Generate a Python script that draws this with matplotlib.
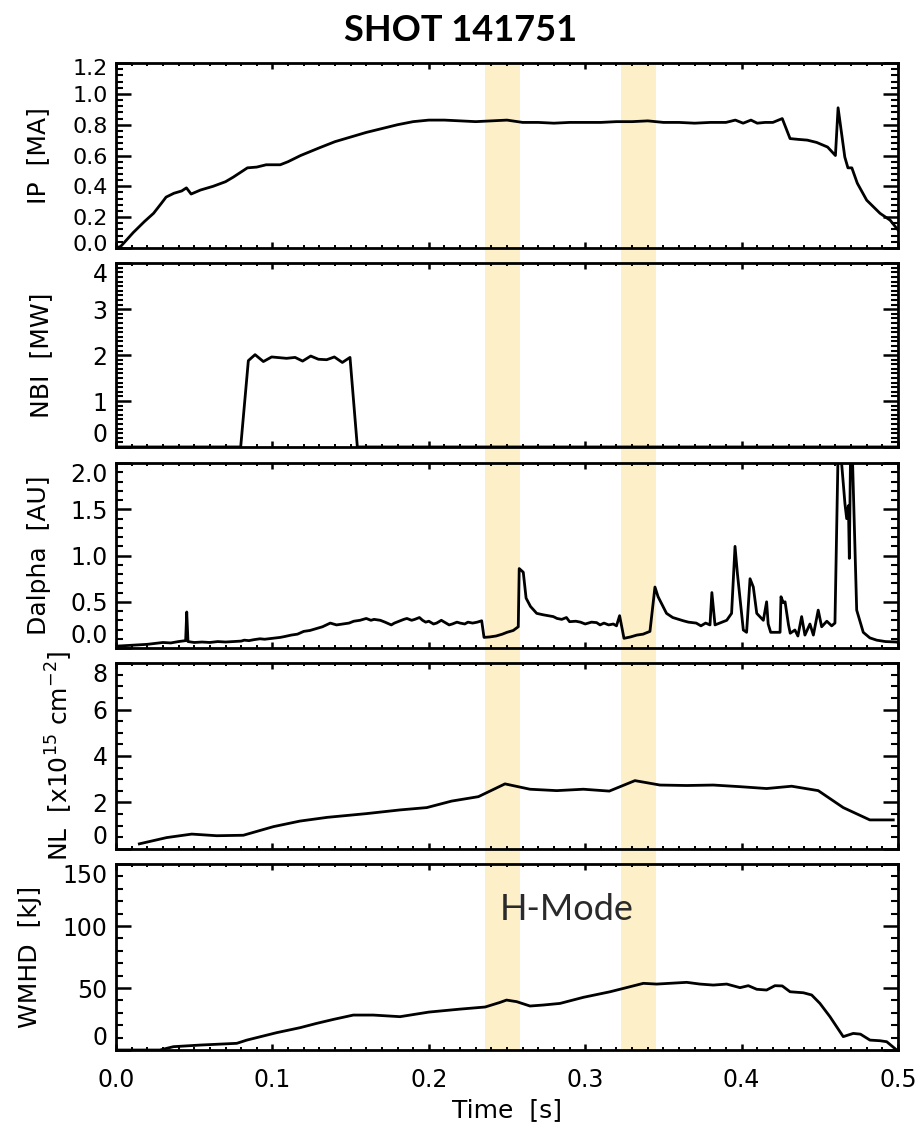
import matplotlib
matplotlib.use("Agg")
import matplotlib.pyplot as plt
from matplotlib.patches import Rectangle
from matplotlib.transforms import blended_transform_factory, ScaledTranslation
from matplotlib.ticker import MultipleLocator

plt.rcParams['font.family'] = ['DejaVu Sans']
plt.rcParams['mathtext.fontset'] = 'dejavusans'

title = "SHOT 141751"
xlabel = "Time  [s]"
ylabels = ["IP  [MA]", "NBI  [MW]", "Dalpha  [AU]", "NL  [x10$^{15}$ cm$^{-2}$]", "WMHD  [kJ]"]
hmode_label = "H-Mode"
bands = [(0.236, 0.258), (0.323, 0.345)]
xticks = [0.0, 0.1, 0.2, 0.3, 0.4, 0.5]

ip_t = [0.0, 0.003, 0.011, 0.018, 0.024, 0.029, 0.032, 0.037, 0.042, 0.045, 0.048, 0.054,
        0.062, 0.070, 0.075, 0.084, 0.090, 0.096, 0.105, 0.110, 0.118, 0.13, 0.14, 0.15,
        0.16, 0.17, 0.18, 0.19, 0.20, 0.21, 0.22, 0.23, 0.24, 0.25, 0.26, 0.27, 0.28,
        0.29, 0.30, 0.31, 0.32, 0.33, 0.34, 0.35, 0.36, 0.37, 0.38, 0.39, 0.396, 0.401,
        0.406, 0.41, 0.415, 0.42, 0.426, 0.431, 0.436, 0.442, 0.448, 0.455, 0.460,
        0.4617, 0.466, 0.468, 0.4705, 0.474, 0.480, 0.4885, 0.495, 0.5]
ip_v = [0.0, 0.01, 0.10, 0.17, 0.225, 0.29, 0.33, 0.355, 0.37, 0.39, 0.35, 0.376,
        0.40, 0.43, 0.46, 0.52, 0.525, 0.54, 0.54, 0.56, 0.60, 0.65, 0.69, 0.72,
        0.75, 0.775, 0.80, 0.82, 0.83, 0.83, 0.825, 0.82, 0.825, 0.83, 0.815, 0.815, 0.81,
        0.815, 0.815, 0.815, 0.82, 0.82, 0.825, 0.815, 0.815, 0.81, 0.815, 0.815, 0.83, 0.81,
        0.83, 0.81, 0.815, 0.815, 0.84, 0.71, 0.705, 0.70, 0.685, 0.655, 0.60,
        0.91, 0.59, 0.52, 0.52, 0.42, 0.31, 0.225, 0.18, 0.117]

nbi_t = [0.0, 0.0797, 0.0846, 0.0889, 0.0942, 0.0995, 0.109, 0.1145, 0.1193, 0.1245,
         0.1294, 0.1347, 0.1396, 0.1447, 0.1496, 0.1543, 0.5]
nbi_v = [0.0, 0.0, 1.88, 2.01, 1.86, 1.96, 1.93, 1.95, 1.87, 1.98,
         1.91, 1.90, 1.96, 1.84, 1.95, 0.0, 0.0]

da_t = [0.0, 0.005, 0.01, 0.015, 0.02, 0.025, 0.03, 0.035, 0.04, 0.0445, 0.0452, 0.046,
        0.05, 0.055, 0.06, 0.065, 0.07, 0.075, 0.08, 0.082, 0.085, 0.088, 0.092, 0.095,
        0.1, 0.105, 0.108, 0.112, 0.116, 0.12, 0.124, 0.128, 0.132, 0.137, 0.141, 0.145,
        0.149, 0.152, 0.156, 0.160, 0.163, 0.165, 0.169, 0.172, 0.176, 0.178, 0.181,
        0.184, 0.186, 0.189, 0.191, 0.194, 0.196, 0.198, 0.200, 0.203, 0.205, 0.208,
        0.21, 0.213, 0.215, 0.218, 0.22, 0.223, 0.225, 0.228, 0.231, 0.2338,
        0.2353, 0.239, 0.243, 0.247, 0.25, 0.254, 0.2572, 0.2578, 0.2604, 0.2622, 0.265,
        0.269, 0.273, 0.2796, 0.282, 0.285, 0.288, 0.290, 0.294, 0.297, 0.300, 0.304,
        0.3073, 0.3095, 0.312, 0.315, 0.318, 0.320, 0.322, 0.3248, 0.329, 0.333, 0.337,
        0.3414, 0.3446, 0.3466, 0.352, 0.356, 0.3627, 0.366, 0.371, 0.374, 0.377, 0.3798,
        0.381, 0.383, 0.386, 0.3905, 0.3936, 0.3958, 0.3973, 0.4011, 0.4032,
        0.4054, 0.4075, 0.4097, 0.4139, 0.416, 0.417, 0.4186, 0.4246, 0.4252, 0.4267, 0.4278,
        0.43, 0.4311, 0.4341, 0.436, 0.4384, 0.4405, 0.4437, 0.4459, 0.449, 0.4512, 0.4545,
        0.4576, 0.4597, 0.462, 0.4661, 0.4672, 0.4683, 0.4689, 0.4700, 0.4736, 0.4778,
        0.482, 0.4864, 0.492, 0.499, 0.5]
da_v = [0.02, 0.025, 0.03, 0.035, 0.04, 0.05, 0.06, 0.055, 0.07, 0.08, 0.39, 0.07,
        0.06, 0.065, 0.06, 0.07, 0.065, 0.07, 0.075, 0.085, 0.08, 0.09, 0.10, 0.095,
        0.105, 0.115, 0.125, 0.14, 0.15, 0.18, 0.19, 0.21, 0.23, 0.27, 0.25, 0.26,
        0.27, 0.29, 0.30, 0.32, 0.30, 0.31, 0.30, 0.28, 0.25, 0.27, 0.29,
        0.31, 0.32, 0.30, 0.31, 0.33, 0.30, 0.28, 0.29, 0.26, 0.27, 0.30,
        0.28, 0.25, 0.26, 0.28, 0.27, 0.26, 0.28, 0.27, 0.28, 0.295,
        0.115, 0.12, 0.13, 0.15, 0.17, 0.19, 0.23, 0.86, 0.82, 0.54, 0.45,
        0.375, 0.36, 0.34, 0.32, 0.31, 0.33, 0.285, 0.29, 0.28, 0.26, 0.28,
        0.275, 0.25, 0.27, 0.25, 0.26, 0.24, 0.35, 0.105, 0.12, 0.14, 0.15,
        0.18, 0.66, 0.555, 0.375, 0.33, 0.295, 0.28, 0.27, 0.24, 0.27, 0.25,
        0.60, 0.25, 0.27, 0.30, 0.375, 1.10, 0.81, 0.195, 0.17,
        0.75, 0.66, 0.375, 0.30, 0.50, 0.26, 0.17, 0.17, 0.555, 0.49, 0.50,
        0.25, 0.16, 0.195, 0.13, 0.34, 0.14, 0.26, 0.14, 0.41, 0.23, 0.29,
        0.24, 0.27, 2.4, 1.56, 1.40, 1.54, 0.97, 2.6, 0.41, 0.17,
        0.11, 0.085, 0.07, 0.065, 0.06]

nl_t = [0.0149, 0.0324, 0.0484, 0.0644, 0.0814, 0.1006, 0.1176, 0.135, 0.16, 0.1816,
        0.1987, 0.2146, 0.2317, 0.2487, 0.2647, 0.2818, 0.2988, 0.3154, 0.3318, 0.3478,
        0.3649, 0.3819, 0.399, 0.416, 0.432, 0.449, 0.465, 0.482, 0.497]
nl_v = [0.22, 0.49, 0.64, 0.57, 0.59, 0.96, 1.2, 1.36, 1.52, 1.68,
        1.78, 2.06, 2.25, 2.80, 2.57, 2.51, 2.57, 2.49, 2.94, 2.75,
        2.73, 2.75, 2.68, 2.60, 2.70, 2.51, 1.78, 1.25, 1.25]

w_t = [0.0, 0.028, 0.0367, 0.0537, 0.0772, 0.0836, 0.1027, 0.1176, 0.1283, 0.139,
       0.1517, 0.1645, 0.1816, 0.20, 0.22, 0.236, 0.2455, 0.2497, 0.2562, 0.2647,
       0.2732, 0.2839, 0.2988, 0.3159, 0.3244, 0.3372, 0.3457, 0.3649, 0.3734, 0.3819,
       0.3905, 0.399, 0.4043, 0.4097, 0.416, 0.4213, 0.426, 0.431, 0.4395, 0.4448,
       0.4501, 0.4565, 0.465, 0.4714, 0.476, 0.4821, 0.4885, 0.4928, 0.4992]
w_v = [0.0, 0.0, 2.7, 4.0, 5.4, 8.0, 14.0, 18.0, 21.5, 24.7,
       28.2, 28.2, 26.9, 30.6, 33.0, 34.7, 38.4, 40.3, 39.0, 35.5,
       36.3, 37.6, 42.5, 47.0, 49.7, 53.8, 53.2, 54.6, 53.2, 52.4,
       53.2, 50.3, 51.9, 49.0, 48.4, 51.9, 51.7, 47.0, 46.2, 44.4,
       37.6, 26.9, 10.8, 13.4, 12.8, 8.0, 7.5, 6.7, 0.0]

series = [(ip_t, ip_v), (nbi_t, nbi_v), (da_t, da_v), (nl_t, nl_v), (w_t, w_v)]
ylims = [(0, 1.2), (0, 4), (0, 2.0), (0, 8), (0, 150)]
ymajor = [0.2, 1, 0.5, 2, 50]
yminor = [0.04, 0.1, 0.1, 0.5, 10]
yfmt = ["{:.1f}", "{:.0f}", "{:.1f}", "{:.0f}", "{:.0f}"]
ylabel_x = [-0.0844, -0.0806, -0.0831, -0.0524, -0.0946]

fig = plt.figure(figsize=(9.21, 11.27), dpi=100)
left, width = 0.126, 0.849
bottoms = [0.780, 0.6034, 0.425, 0.2467, 0.0683]
heights = [0.164, 0.163, 0.164, 0.165, 0.165]
axes = []
for i in range(5):
    ax = fig.add_axes([left, bottoms[i], width, heights[i]])
    ax.set_facecolor('none')
    axes.append(ax)

band_color = '#FDEFC8'
for i, ax in enumerate(axes):
    t, v = series[i]
    ax.plot(t, v, color='black', lw=2.0, zorder=3)
    ax.set_xlim(0, 0.5)
    ax.set_ylim(*ylims[i])
    lo, hi = ylims[i]
    n = int(round((hi - lo) / ymajor[i]))
    yt = [lo + k * ymajor[i] for k in range(n + 1)]
    ax.set_yticks(yt, [yfmt[i].format(y) for y in yt])
    ax.yaxis.set_minor_locator(MultipleLocator(yminor[i]))
    ax.set_xticks(xticks)
    ax.xaxis.set_minor_locator(MultipleLocator(0.01))
    ylsize = 16 if i == 0 else 17
    ax.tick_params(axis='y', which='major', direction='in', length=11, width=1.8,
                   left=True, right=True, labelsize=ylsize, pad=6)
    ax.tick_params(axis='y', which='minor', direction='in', length=5, width=1.5,
                   left=True, right=True)
    ax.tick_params(axis='x', which='major', direction='in', length=4.5, width=1.8,
                   top=True, bottom=True, labelsize=17, pad=13)
    ax.tick_params(axis='x', which='minor', direction='in', length=2.2, width=1.4,
                   top=True, bottom=True)
    labs = ax.get_yticklabels()
    if i == 0:
        # crowded ends: centre the end labels and nudge them inward
        labs[0].set_transform(labs[0].get_transform() +
                              ScaledTranslation(0, 5 / 100, fig.dpi_scale_trans))
        labs[-1].set_transform(labs[-1].get_transform() +
                               ScaledTranslation(0, -4 / 100, fig.dpi_scale_trans))
    else:
        labs[0].set_verticalalignment('bottom')
        labs[-1].set_verticalalignment('top')
    for sp in ax.spines.values():
        sp.set_linewidth(2.0)
    ax.set_ylabel(ylabels[i], fontsize=18)
    ax.yaxis.set_label_coords(ylabel_x[i], 0.5)
    if i < 4:
        ax.tick_params(axis='x', labelbottom=False)

axes[-1].set_xticks(xticks, [f"{x:.1f}" for x in xticks])
axes[-1].set_xlabel(xlabel, fontsize=18, labelpad=4)

trans = blended_transform_factory(axes[-1].transData, fig.transFigure)
ybot = bottoms[-1]
ytop = bottoms[0] + heights[0]
for (a, b) in bands:
    fig.add_artist(Rectangle((a, ybot), b - a, ytop - ybot, transform=trans,
                             facecolor=band_color, edgecolor='none', zorder=-1))

axes[-1].text(0.288, 113, hmode_label, fontsize=26, fontweight='normal',
              family=['Lato', 'DejaVu Sans'],
              ha='center', va='center', color='#2a2a2a')

fig.text(0.5, 0.973, title, fontsize=26, fontweight='bold', family=['Lato', 'DejaVu Sans'],
         ha='center', va='center')

fig.savefig("out.png", dpi=100)
